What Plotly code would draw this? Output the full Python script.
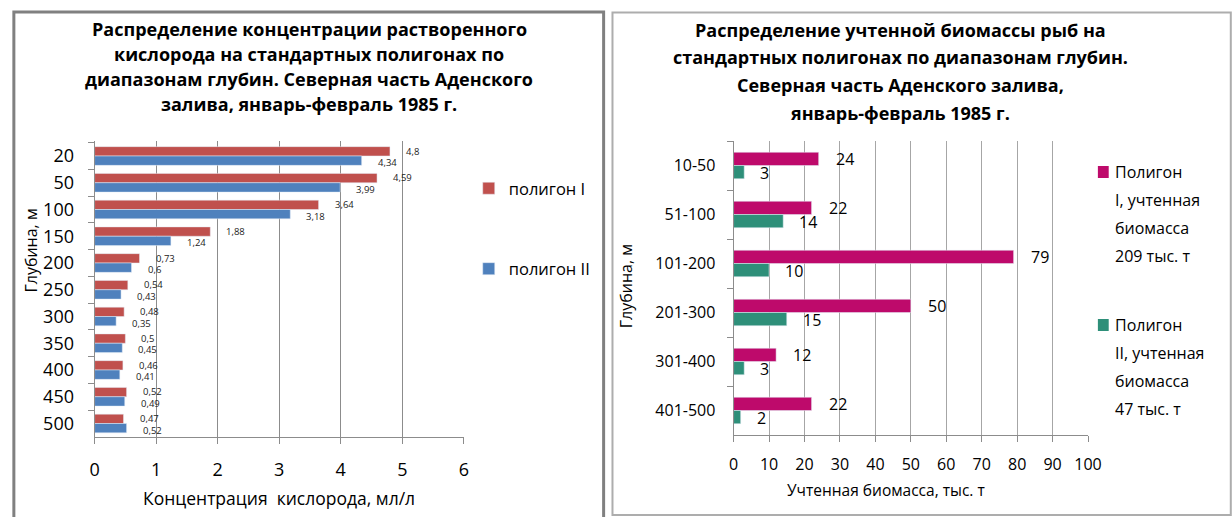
import plotly.graph_objects as go

# ---- data: dissolved oxygen by depth ----
depth_m = ["20", "50", "100", "150", "200", "250", "300", "350", "400", "450", "500"]
oxygen_poly1 = [4.8, 4.59, 3.64, 1.88, 0.73, 0.54, 0.48, 0.5, 0.46, 0.52, 0.47]
oxygen_poly2 = [4.34, 3.99, 3.18, 1.24, 0.6, 0.43, 0.35, 0.45, 0.41, 0.49, 0.52]
oxygen_ticks = [0, 1, 2, 3, 4, 5, 6]

# ---- data: fish biomass by depth range ----
depth_ranges = ["10-50", "51-100", "101-200", "201-300", "301-400", "401-500"]
biomass_poly1 = [24, 22, 79, 50, 12, 22]
biomass_poly2 = [3, 14, 10, 15, 3, 2]
biomass_ticks = [0, 10, 20, 30, 40, 50, 60, 70, 80, 90, 100]

title_left = [
    "Распределение концентрации растворенного",
    "кислорода на стандартных полигонах по",
    "диапазонам глубин. Северная часть Аденского",
    "залива, январь-февраль 1985 г.",
]
title_right = [
    "Распределение учтенной биомассы рыб на",
    "стандартных полигонах по диапазонам глубин.",
    "Северная часть Аденского залива,",
    "январь-февраль 1985 г.",
]
legend_left = ["полигон I", "полигон II"]
legend_right = [
    ["Полигон", "I, учтенная", "биомасса", "209 тыс. т"],
    ["Полигон", "II, учтенная", "биомасса", "47 тыс. т"],
]

W, H = 1232, 517
FONT = "Open Sans"
RED, BLUE = "#C0504D", "#4F81BD"
MAGENTA, TEAL = "#BE0A6B", "#2E8F79"
GRID = "#8C8C8C"


def px(x):
    return x / W


def py(y):
    return 1 - y / H


def fmt(v):
    return f"{v:g}".replace(".", ",")


def paper_text(x, y, text, size, bold=False, angle=0, xanchor="center"):
    return dict(x=px(x), y=py(y), xref="paper", yref="paper",
                text=f"<b>{text}</b>" if bold else text, textangle=angle,
                showarrow=False, xanchor=xanchor, yanchor="middle",
                font=dict(family=FONT, size=size, color="#000"))


fig = go.Figure()

# left chart bars (polygon I above polygon II in each depth row)
fig.add_trace(go.Bar(y=depth_m, x=oxygen_poly1, orientation="h", name=legend_left[0],
                     marker=dict(color=RED), legendgroup="a",
                     width=0.35, offset=-0.35, xaxis="x", yaxis="y"))
fig.add_trace(go.Bar(y=depth_m, x=oxygen_poly2, orientation="h", name=legend_left[1],
                     marker=dict(color=BLUE), legendgroup="b",
                     width=0.35, offset=0.0, xaxis="x", yaxis="y"))

# right chart bars
fig.add_trace(go.Bar(y=depth_ranges, x=biomass_poly1, orientation="h",
                     name=" ".join(legend_right[0]), marker=dict(color=MAGENTA),
                     width=0.27, offset=-0.27, showlegend=False, xaxis="x2", yaxis="y2"))
fig.add_trace(go.Bar(y=depth_ranges, x=biomass_poly2, orientation="h",
                     name=" ".join(legend_right[1]), marker=dict(color=TEAL),
                     width=0.27, offset=0.0, showlegend=False, xaxis="x2", yaxis="y2"))

annotations = []

# value labels, left chart (y given as category index)
for i, v in enumerate(oxygen_poly1):
    annotations.append(dict(x=v, y=i, xref="x", yref="y", text=fmt(v), showarrow=False,
                            xanchor="left", yanchor="middle", xshift=14, yshift=5,
                            font=dict(family=FONT, size=9.5, color="#222")))
for i, v in enumerate(oxygen_poly2):
    annotations.append(dict(x=v, y=i, xref="x", yref="y", text=fmt(v), showarrow=False,
                            xanchor="left", yanchor="middle", xshift=14, yshift=-6.5,
                            font=dict(family=FONT, size=9.5, color="#222")))

# value labels, right chart
for i, v in enumerate(biomass_poly1):
    annotations.append(dict(x=v, y=i, xref="x2", yref="y2", text=str(v), showarrow=False,
                            xanchor="left", yanchor="middle", xshift=15, yshift=7,
                            font=dict(family=FONT, size=16, color="#000")))
for i, v in enumerate(biomass_poly2):
    annotations.append(dict(x=v, y=i, xref="x2", yref="y2", text=str(v), showarrow=False,
                            xanchor="left", yanchor="middle", xshift=14, yshift=-7,
                            font=dict(family=FONT, size=16, color="#000")))

# titles
for i, line in enumerate(title_left):
    annotations.append(paper_text(309, 29 + 25 * i, line, 18, bold=True))
for i, line in enumerate(title_right):
    annotations.append(paper_text(910, 30 + 27.5 * i, line, 18, bold=True))

# axis titles
annotations += [
    paper_text(278, 498, "Концентрация  кислорода, мл/л", 17.5),
    paper_text(26, 251, "Глубина, м", 16, angle=-90),
    paper_text(895, 490, "Учтенная биомасса, тыс. т", 15.5),
    paper_text(631, 286, "Глубина, м", 16, angle=-90),
]

shapes = [
    # chart frames
    dict(type="rect", xref="paper", yref="paper", x0=px(9), x1=px(608), y0=py(530), y1=py(12),
         line=dict(color="#808080", width=3), fillcolor="rgba(0,0,0,0)", layer="below"),
    dict(type="rect", xref="paper", yref="paper", x0=px(617), x1=px(1245), y0=py(515), y1=py(12.5),
         line=dict(color="#ADADAD", width=2), fillcolor="rgba(0,0,0,0)", layer="below"),
]

# right legend: colour keys and wrapped labels
for lines, col, y0 in zip(legend_right, [MAGENTA, TEAL], [172, 325]):
    shapes.append(dict(type="rect", xref="paper", yref="paper", x0=px(1110), x1=px(1121),
                       y0=py(y0 + 6), y1=py(y0 - 6), fillcolor=col, line=dict(width=0)))
    for j, line in enumerate(lines):
        annotations.append(paper_text(1125, y0 + 28 * j, line, 16, xanchor="left"))

axis_common = dict(showline=True, linecolor=GRID, linewidth=1, ticks="outside",
                   tickcolor=GRID, ticklen=6, tickwidth=1)

fig.update_layout(
    width=W, height=H, autosize=False,
    margin=dict(l=0, r=0, t=0, b=0),
    paper_bgcolor="white", plot_bgcolor="white",
    barmode="group",
    font=dict(family=FONT, color="#000"),
    xaxis=dict(domain=[px(91), px(466)], anchor="y", range=[0, 6], tickvals=oxygen_ticks,
               showgrid=True, gridcolor=GRID, gridwidth=1, zeroline=False,
               tickfont=dict(size=18), ticklabelstandoff=10, **axis_common),
    yaxis=dict(domain=[py(437), py(141)], anchor="x", autorange="reversed",
               type="category", tickson="boundaries", showgrid=False,
               tickfont=dict(size=18), ticklabelstandoff=16, **axis_common),
    xaxis2=dict(domain=[px(740), px(1100)], anchor="y2", range=[0, 100], tickvals=biomass_ticks,
                showgrid=True, gridcolor="#A6A6A6", gridwidth=1, zeroline=False,
                tickfont=dict(size=16), ticklabelstandoff=9, **axis_common),
    yaxis2=dict(domain=[py(435), py(141)], anchor="x2", autorange="reversed",
                type="category", tickson="boundaries", showgrid=False,
                tickfont=dict(size=16), ticklabelstandoff=14, **axis_common),
    legend=dict(x=px(471), y=py(171), xanchor="left", yanchor="top",
                font=dict(family=FONT, size=16.5, color="#000"),
                tracegroupgap=56, bgcolor="rgba(0,0,0,0)", itemclick=False),
    annotations=annotations,
    shapes=shapes,
)

fig.write_html("out.html")
